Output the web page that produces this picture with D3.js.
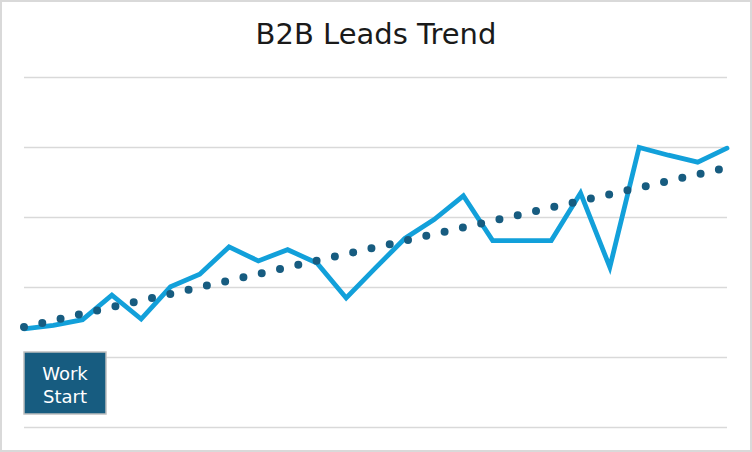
<!DOCTYPE html>
<html>
<head>
<meta charset="utf-8">
<script src="https://cdn.jsdelivr.net/npm/d3@7"></script>
<style>
  html, body { margin: 0; padding: 0; background: #fff; }
  svg { display: block; }
</style>
</head>
<body>
<svg id="chart"></svg>
<script>
// weekly leads (no axis labels shown, scale 0-50)
var periods = d3.range(1, 26);
var leads = [14.1, 14.6, 15.4, 18.9, 15.5, 20.1, 21.9, 25.8, 23.8, 25.4,
             23.5, 18.5, 22.8, 27.0, 29.7, 33.1, 26.7, 26.7, 26.7, 33.5,
             22.9, 40.0, 38.9, 37.9, 39.9];
var yTicks = [0, 10, 20, 30, 40, 50];
var chartTitle = 'B2B Leads Trend';
var markerLines = ['Work', 'Start'];

var W = 752, H = 452;
var margin = { top: 77.5, right: 25, bottom: 24.5, left: 24 };

var svg = d3.select('#chart').attr('width', W).attr('height', H);

svg.append('rect')
  .attr('x', 1).attr('y', 1)
  .attr('width', W - 2).attr('height', H - 2)
  .attr('fill', '#fff')
  .attr('stroke', '#d9d9d9')
  .attr('stroke-width', 2);

var x = d3.scalePoint()
  .domain(periods)
  .range([margin.left, W - margin.right]);

var y = d3.scaleLinear()
  .domain([0, 50])
  .range([H - margin.bottom, margin.top]);

// gridlines
svg.append('g')
  .selectAll('line')
  .data(yTicks)
  .enter().append('line')
  .attr('x1', margin.left)
  .attr('x2', W - margin.right)
  .attr('y1', function(d) { return y(d); })
  .attr('y2', function(d) { return y(d); })
  .attr('stroke', '#d9d9d9')
  .attr('stroke-width', 1.5);

svg.append('text')
  .attr('x', W / 2)
  .attr('y', 44)
  .attr('text-anchor', 'middle')
  .attr('font-family', 'DejaVu Sans, sans-serif')
  .attr('font-size', '29px')
  .attr('fill', '#1a1a1a')
  .text(chartTitle);

// linear trend (least squares over the series)
var n = leads.length;
var mx = d3.mean(periods), my = d3.mean(leads);
var sxy = 0, sxx = 0;
periods.forEach(function(p, i) {
  sxy += (p - mx) * (leads[i] - my);
  sxx += (p - mx) * (p - mx);
});
var slope = sxy / sxx;
var icpt = my - slope * mx;
var trendPts = [periods[0], periods[n - 1]].map(function(p) { return [p, icpt + slope * p]; });

var line = d3.line()
  .x(function(d, i) { return x(periods[i]); })
  .y(function(d) { return y(d); });

svg.append('path')
  .datum(leads)
  .attr('d', line)
  .attr('fill', 'none')
  .attr('stroke', '#12a0da')
  .attr('stroke-width', 4.8)
  .attr('stroke-linejoin', 'miter')
  .attr('stroke-linecap', 'round');

svg.append('path')
  .datum(trendPts)
  .attr('d', d3.line().x(function(d) { return x(d[0]); }).y(function(d) { return y(d[1]); }))
  .attr('fill', 'none')
  .attr('stroke', '#175c80')
  .attr('stroke-width', 8)
  .attr('stroke-linecap', 'round')
  .attr('stroke-dasharray', '0 18.75');

// "Work Start" marker box
var box = svg.append('g').attr('transform', 'translate(24,352)');
box.append('rect')
  .attr('width', 82).attr('height', 62)
  .attr('fill', '#175c80')
  .attr('stroke', '#bfbfbf')
  .attr('stroke-width', 1.5);
box.selectAll('text')
  .data(markerLines)
  .enter().append('text')
  .attr('x', 41)
  .attr('y', function(d, i) { return 27.5 + i * 23.5; })
  .attr('text-anchor', 'middle')
  .attr('font-family', 'DejaVu Sans, sans-serif')
  .attr('font-size', '18px')
  .attr('fill', '#fff')
  .text(function(d) { return d; });
</script>
</body>
</html>
